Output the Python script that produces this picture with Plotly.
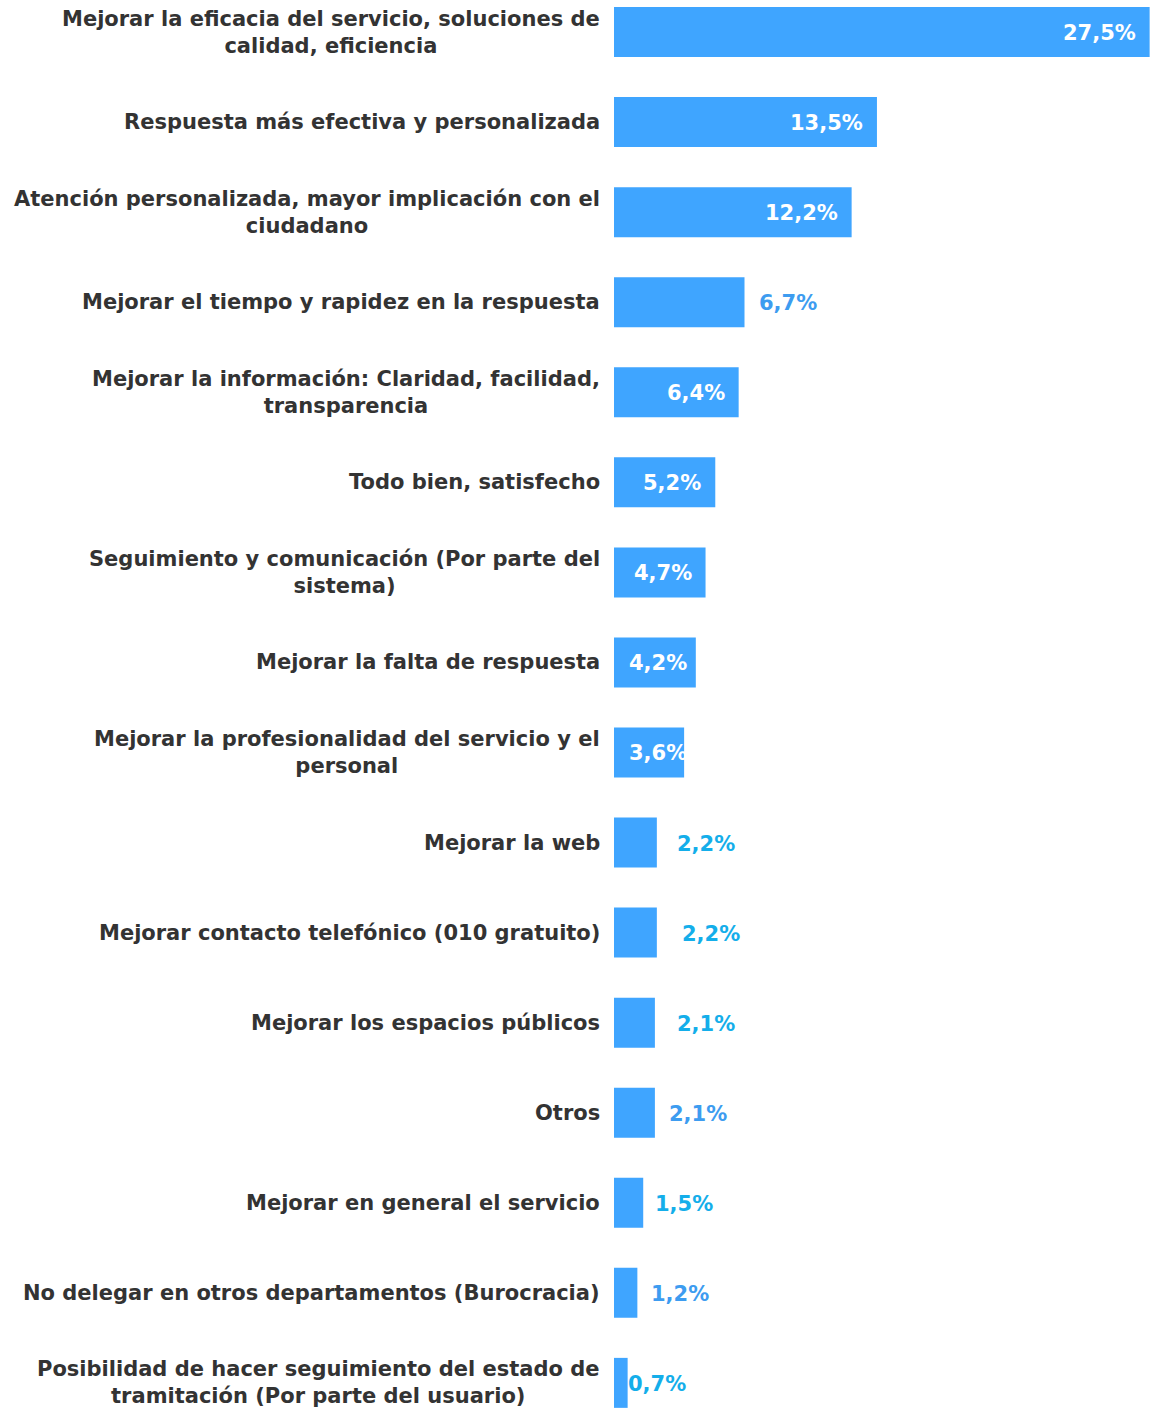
import plotly.graph_objects as go

categories = [
    "Mejorar la eficacia del servicio, soluciones de<br>calidad, eficiencia",
    "Respuesta más efectiva y personalizada",
    "Atención personalizada, mayor implicación con el<br>ciudadano",
    "Mejorar el tiempo y rapidez en la respuesta",
    "Mejorar la información: Claridad, facilidad,<br>transparencia",
    "Todo bien, satisfecho",
    "Seguimiento y comunicación (Por parte del<br>sistema)",
    "Mejorar la falta de respuesta",
    "Mejorar la profesionalidad del servicio y el<br>personal",
    "Mejorar la web",
    "Mejorar contacto telefónico (010 gratuito)",
    "Mejorar los espacios públicos",
    "Otros",
    "Mejorar en general el servicio",
    "No delegar en otros departamentos (Burocracia)",
    "Posibilidad de hacer seguimiento del estado de<br>tramitación (Por parte del usuario)",
]
values = [27.5, 13.5, 12.2, 6.7, 6.4, 5.2, 4.7, 4.2, 3.6, 2.2, 2.2, 2.1, 2.1, 1.5, 1.2, 0.7]
labels = ["27,5%", "13,5%", "12,2%", "6,7%", "6,4%", "5,2%", "4,7%", "4,2%", "3,6%",
          "2,2%", "2,2%", "2,1%", "2,1%", "1,5%", "1,2%", "0,7%"]

# label placement (style only)
inside = [True, True, True, False, True, True, True, True, True,
          False, False, False, False, False, False, False]
out_gap = [0, 0, 0, 12, 0, 0, 0, 0, 0, 18, 23, 20, 12, 10, 12, -2]
out_color = ["", "", "", "#3d9cf0", "", "", "", "", "",
             "#14aeea", "#14aeea", "#14aeea", "#3d9cf0", "#14aeea", "#3d9cf0", "#14aeea"]

BAR = "#3fa5ff"
FONT = "DejaVu Sans"
FS = 21
LEFT = 614
xmax = 27.57
plot_w = 1151 - LEFT
keys = list(range(len(categories)))

fig = go.Figure(go.Bar(
    x=values, y=keys, orientation="h",
    marker=dict(color=BAR, line=dict(width=0)),
    width=0.555, hoverinfo="skip",
))

ann = []
for i, (c, v, t) in enumerate(zip(categories, values, labels)):
    ann.append(dict(x=0, y=i, xref="x", yref="y", text=c, showarrow=False,
                    xanchor="right", yanchor="middle", align="center", xshift=-12,
                    font=dict(family=FONT, size=FS, color="#333333", weight="bold")))
    if inside[i]:
        w = v * plot_w / xmax
        tw = len(t) * 14.8
        if w - 12 - tw >= 14:
            a = dict(x=v, xanchor="right", xshift=-12)
        else:
            a = dict(x=0, xanchor="left", xshift=13)
        a.update(font=dict(family=FONT, size=FS, color="white", weight="bold"))
    else:
        a = dict(x=v, xanchor="left", xshift=out_gap[i],
                 font=dict(family=FONT, size=FS, color=out_color[i], weight="bold"))
    a.update(y=i, xref="x", yref="y", text=t, showarrow=False, yanchor="middle", yshift=-1)
    ann.append(a)

fig.update_layout(
    width=1151, height=1408,
    margin=dict(l=LEFT, r=0, t=0, b=0),
    plot_bgcolor="white", paper_bgcolor="white",
    showlegend=False,
    xaxis=dict(range=[0, xmax], visible=False),
    yaxis=dict(range=[15.279, -0.356], visible=False),
    annotations=ann,
)

fig.write_html("out.html", config={"displayModeBar": False},
               post_script="document.body.style.margin='0';document.body.style.overflow='hidden';")
